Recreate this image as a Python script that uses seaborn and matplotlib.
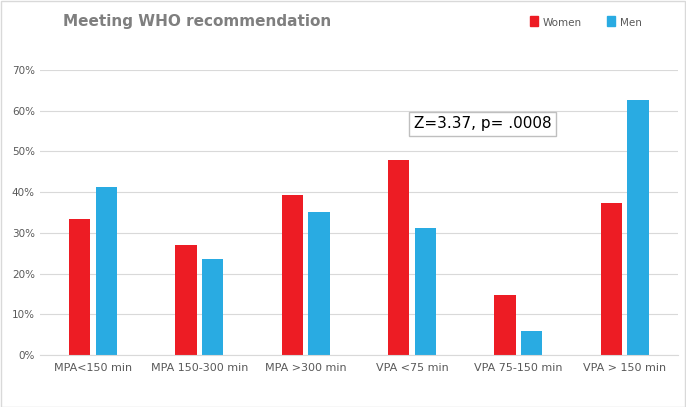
import matplotlib
matplotlib.use("Agg")
import matplotlib.pyplot as plt
import seaborn as sns
import pandas as pd
from matplotlib.ticker import PercentFormatter

categories = ["MPA<150 min", "MPA 150-300 min", "MPA >300 min", "VPA <75 min", "VPA 75-150 min", "VPA > 150 min"]
women = [33.5, 27.1, 39.4, 47.8, 14.7, 37.4]
men = [41.2, 23.5, 35.2, 31.3, 5.8, 62.7]

df = pd.DataFrame({
    "cat": categories * 2,
    "val": women + men,
    "sex": ["Women"] * len(categories) + ["Men"] * len(categories),
})

fig = plt.figure(figsize=(6.86, 4.07), dpi=100)
ax = fig.add_axes([0.058, 0.128, 0.93, 0.70])
sns.barplot(data=df, x="cat", y="val", hue="sex", palette={"Women": "#ED1C24", "Men": "#29ABE2"},
            width=0.5, gap=0.2, ax=ax, legend=False, saturation=1)
ax.set_ylim(0, 70)
ax.set_yticks(range(0, 71, 10))
ax.yaxis.set_major_formatter(PercentFormatter(decimals=0))
ax.grid(axis="y", color="#d9d9d9", linewidth=0.8)
ax.set_axisbelow(True)
for s in ["top", "right", "left"]:
    ax.spines[s].set_visible(False)
ax.spines["bottom"].set_color("#d9d9d9")
ax.tick_params(axis="both", length=0, colors="#595959", labelsize=7.5)
ax.tick_params(axis="x", labelsize=8, pad=6)
ax.set_xlabel("")
ax.set_ylabel("")

fig.text(0.092, 0.935, "Meeting WHO recommendation", fontsize=11, fontweight="bold", color="#7f7f7f")
fig.patches.append(plt.Rectangle((0.772, 0.937), 0.012, 0.024, color="#ED1C24", transform=fig.transFigure))
fig.text(0.791, 0.937, "Women", fontsize=7.5, color="#595959")
fig.patches.append(plt.Rectangle((0.885, 0.937), 0.012, 0.024, color="#29ABE2", transform=fig.transFigure))
fig.text(0.904, 0.937, "Men", fontsize=7.5, color="#595959")

fig.text(0.603, 0.685, "Z=3.37, p= .0008", fontsize=11, color="black", family="Liberation Sans Narrow",
         bbox=dict(boxstyle="square,pad=0.3", fc="white", ec="#bfbfbf", lw=1))
fig.patches.append(plt.Rectangle((0.001, 0.001), 0.997, 0.997, fill=False, ec="#d9d9d9", lw=1, transform=fig.transFigure))

fig.savefig("out.png", dpi=100)
